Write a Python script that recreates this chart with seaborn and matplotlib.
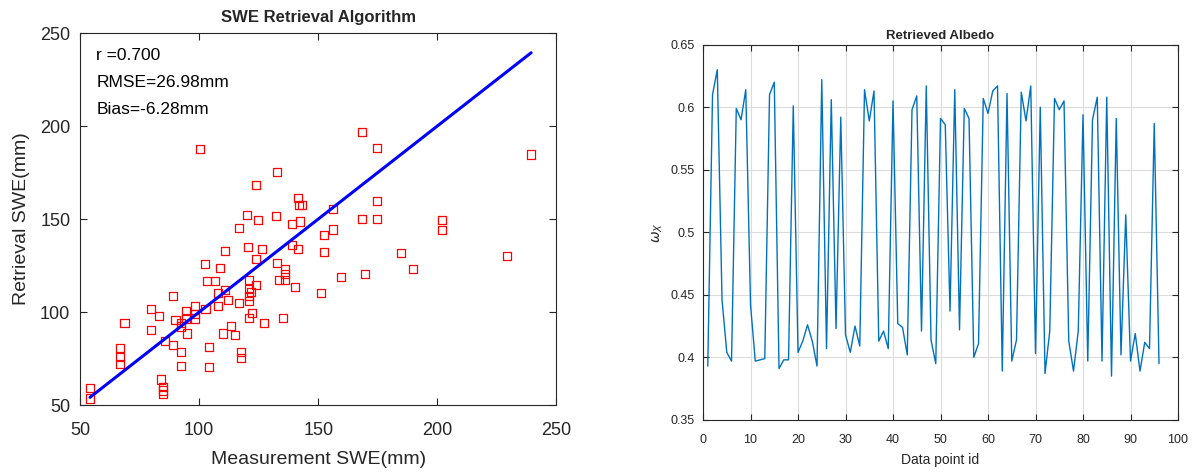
import matplotlib
matplotlib.use("Agg")
import matplotlib.pyplot as plt
import seaborn as sns
import numpy as np
import pandas as pd

# SWE scatter: measurement vs retrieval (mm)
meas_swe = [54.2, 54.2, 68.7, 66.7, 66.7, 66.7, 79.7, 79.7, 83.0, 84.0, 85.0, 85.0, 85.0, 85.8,
            89.2, 89.2, 90.1, 92.5, 92.5, 92.5, 92.5, 94.6, 94.6, 95.0, 98.4, 98.4, 98.4, 100.3,
            102.4, 102.7, 103.5, 104.1, 104.1, 106.7, 108.1, 108.1, 108.8, 110.2, 110.9, 110.9,
            112.3, 113.5, 115.2, 116.6, 116.6, 117.6, 117.6, 120.1, 120.4, 120.8, 120.8, 120.8,
            121.1, 121.1, 121.8, 122.2, 123.7, 123.7, 123.9, 124.6, 126.5, 127.2, 132.2, 132.6,
            132.6, 133.4, 135.1, 136.0, 136.0, 136.0, 139.1, 139.1, 140.4, 141.5, 141.5, 141.9,
            143.1, 142.2, 151.1, 152.5, 152.5, 156.1, 156.4, 159.5, 168.4, 168.4, 169.8, 174.5,
            174.5, 174.5, 184.8, 189.9, 202.1, 202.1, 229.2, 239.4]
retr_swe = [59.0, 53.6, 94.4, 80.9, 76.1, 71.9, 101.6, 90.3, 98.0, 63.8, 59.9, 57.9, 55.8, 84.5,
            108.5, 82.2, 95.7, 94.4, 92.3, 78.6, 71.0, 100.4, 96.6, 88.5, 103.4, 98.9, 96.6, 187.6,
            125.9, 101.6, 116.9, 81.5, 70.7, 116.9, 110.1, 103.1, 123.7, 88.5, 132.7, 112.1,
            106.7, 92.6, 87.8, 104.9, 145.1, 78.8, 75.5, 152.3, 134.9, 117.4, 112.4, 96.8,
            108.5, 106.1, 111.0, 99.5, 168.2, 128.6, 114.6, 149.3, 134.0, 94.4, 151.6, 175.4,
            126.3, 117.3, 96.8, 123.0, 120.5, 117.5, 147.5, 136.3, 113.3, 161.5, 134.0, 157.4,
            157.4, 148.7, 110.3, 141.5, 132.2, 155.4, 144.4, 118.7, 197.0, 150.0, 120.7, 188.3,
            159.7, 150.0, 131.7, 123.0, 149.3, 143.9, 130.4, 184.7]
stats_text = ["r =0.700", "RMSE=26.98mm", "Bias=-6.28mm"]

# retrieved albedo per data point
point_id = list(range(1, 97))
albedo = [0.393, 0.610, 0.630, 0.446, 0.404, 0.397, 0.599, 0.590, 0.614, 0.442,
          0.397, 0.398, 0.399, 0.610, 0.620, 0.391, 0.398, 0.398, 0.601, 0.404,
          0.413, 0.426, 0.413, 0.393, 0.622, 0.407, 0.606, 0.423, 0.592, 0.418,
          0.404, 0.425, 0.409, 0.614, 0.589, 0.613, 0.413, 0.421, 0.407, 0.605,
          0.427, 0.424, 0.402, 0.598, 0.609, 0.421, 0.617, 0.414, 0.395, 0.591,
          0.586, 0.437, 0.614, 0.422, 0.599, 0.591, 0.400, 0.411, 0.607, 0.595,
          0.613, 0.617, 0.389, 0.611, 0.397, 0.414, 0.612, 0.589, 0.617, 0.403,
          0.600, 0.387, 0.421, 0.607, 0.598, 0.605, 0.413, 0.389, 0.421, 0.594,
          0.397, 0.590, 0.608, 0.397, 0.608, 0.385, 0.591, 0.402, 0.514, 0.397,
          0.419, 0.389, 0.412, 0.407, 0.587, 0.395]

sns.set_style("ticks")
plt.rcParams['font.family'] = ['Liberation Sans', 'DejaVu Sans']
plt.rcParams['mathtext.fontset'] = 'dejavusans'
txt_col = '#262626'

fig = plt.figure(figsize=(11.94, 4.75), dpi=100)
ax1 = fig.add_axes([0.067, 0.147, 0.399, 0.7835])
ax2 = fig.add_axes([0.5888, 0.116, 0.3978, 0.790])

# left panel
swe = pd.DataFrame({'meas': meas_swe, 'retr': retr_swe})
sns.scatterplot(data=swe, x='meas', y='retr', marker='s', s=34, facecolor='none',
                edgecolor='red', linewidth=0.9, ax=ax1, zorder=2)
lo, hi = min(meas_swe), max(meas_swe)
sns.lineplot(x=[lo, hi], y=[lo, hi], color='blue', linewidth=2.2, ax=ax1, zorder=3)
ax1.set_xlim(50, 250)
ax1.set_ylim(50, 250)
ax1.set_xticks([50, 100, 150, 200, 250])
ax1.set_yticks([50, 100, 150, 200, 250])
ax1.tick_params(direction='in', top=True, right=True, labelsize=13, colors=txt_col,
                length=5, width=0.8)
ax1.tick_params(axis='x', pad=12)
ax1.tick_params(axis='y', pad=7)
ax1.set_xlabel('Measurement SWE(mm)', fontsize=14, color=txt_col, labelpad=9)
ax1.set_ylabel('Retrieval SWE(mm)', fontsize=14, color=txt_col, labelpad=7)
ax1.set_title('SWE Retrieval Algorithm', fontsize=12, fontweight='bold', pad=8)
for i, t in enumerate(stats_text):
    ax1.text(0.034, 0.94 - i * 0.073, t, transform=ax1.transAxes, fontsize=12.5,
             color='black', va='center', ha='left')

# right panel
sns.lineplot(x=point_id, y=albedo, color='#0072BD', linewidth=1.0, ax=ax2)
ax2.set_xlim(0, 100)
ax2.set_ylim(0.35, 0.65)
ax2.set_xticks(range(0, 101, 10))
ax2.set_yticks([0.35, 0.4, 0.45, 0.5, 0.55, 0.6, 0.65])
ax2.set_yticklabels(['0.35', '0.4', '0.45', '0.5', '0.55', '0.6', '0.65'])
ax2.grid(True, color='#dcdcdc', linewidth=0.8)
ax2.tick_params(direction='in', top=True, right=True, labelsize=9, colors=txt_col,
                length=4, width=0.8)
ax2.tick_params(axis='x', pad=10)
ax2.tick_params(axis='y', pad=6)
ax2.set_xlabel('Data point id', fontsize=10, color=txt_col, labelpad=5)
ax2.set_ylabel(r'$\omega_X$', fontsize=10, color=txt_col, labelpad=4)
ax2.set_title('Retrieved Albedo', fontsize=9.5, fontweight='bold', pad=4)

for ax in (ax1, ax2):
    for sp in ax.spines.values():
        sp.set_visible(True)
        sp.set_color(txt_col)
        sp.set_linewidth(0.8)

fig.savefig('out.png', dpi=100)
